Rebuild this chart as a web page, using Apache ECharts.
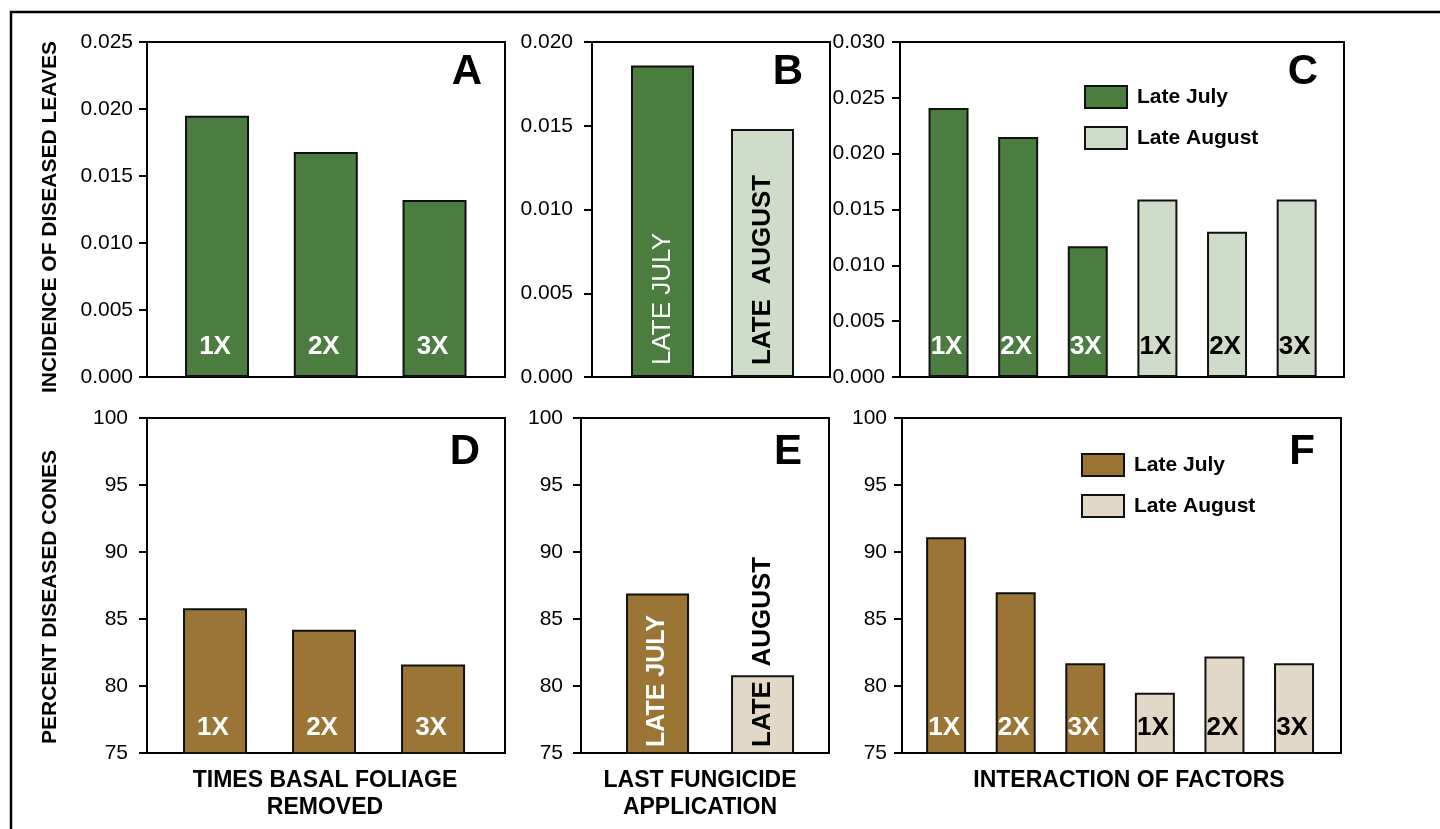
<!DOCTYPE html>
<html><head><meta charset="utf-8">
<script src="https://cdn.jsdelivr.net/npm/echarts@6/dist/echarts.min.js"></script>
<style>html,body{margin:0;padding:0;background:#fff}#c{width:1440px;height:829px}</style>
</head><body><div id="c"></div>
<script>
// ---- data ----
const timesCats = ['1X', '2X', '3X'];
const dateCats = ['LATE JULY', 'LATE  AUGUST'];
const periodNames = ['Late July', 'Late August'];
const panelLetters = ['A', 'B', 'C', 'D', 'E', 'F'];
const leavesByTimes = [0.0195, 0.0168, 0.0132];
const leavesByDate = [0.0186, 0.0148];
const leavesJuly = [0.0241, 0.0215, 0.0117];
const leavesAugust = [0.0159, 0.0130, 0.0159];
const conesByTimes = [85.8, 84.2, 81.6];
const conesByDate = [86.9, 80.8];
const conesJuly = [91.1, 87.0, 81.7];
const conesAugust = [79.5, 82.2, 81.7];
const leavesMax = [0.025, 0.020, 0.030];
const leavesStep = 0.005;
const conesMin = 75, conesMax = 100, conesStep = 5;

// ---- style ----
const FONT = '"Liberation Sans", Arial, Helvetica, sans-serif';
const GREEN = '#4C7D40', LGREEN = '#D0DCCA', BROWN = '#9A7536', BEIGE = '#E2D8C7';
const INK = '#111';

const grids = [
  {left: 147, top: 42, width: 358, height: 335},
  {left: 592, top: 42, width: 238, height: 335},
  {left: 900, top: 42, width: 444, height: 335},
  {left: 147, top: 418, width: 358, height: 335},
  {left: 581, top: 418, width: 248, height: 335},
  {left: 902, top: 418, width: 439, height: 335}
];
const xRanges = [[0.356, 3.648], [0.295, 2.675], [0.303, 6.68], [0.376, 3.66], [0.271, 2.633], [0.366, 6.675]];
const labelMargins = [14, 19, 15, 19, 18, 15];

const xAxis = grids.map((g, i) => ({
  type: 'value', gridIndex: i, min: xRanges[i][0], max: xRanges[i][1],
  axisLine: {show: true, onZero: false, lineStyle: {color: '#000', width: 2}},
  axisTick: {show: false}, axisLabel: {show: false}, splitLine: {show: false}
}));
const yAxis = grids.map((g, i) => {
  const top = i < 3;
  return {
    type: 'value', gridIndex: i,
    min: top ? 0 : conesMin, max: top ? leavesMax[i] : conesMax,
    interval: top ? leavesStep : conesStep,
    axisLine: {show: true, lineStyle: {color: '#000', width: 2}},
    axisTick: {show: true, inside: false, length: 8, lineStyle: {color: '#000', width: 2}},
    splitLine: {show: false},
    axisLabel: {
      margin: labelMargins[i], color: '#000', fontSize: 21, fontFamily: FONT,
      formatter: v => top ? v.toFixed(3) : String(Math.round(v))
    }
  };
});

function timesLabel(color, dist) {
  return {show: true, position: 'insideBottom', distance: dist, verticalAlign: 'middle',
    color: color, fontSize: 26, fontWeight: 'bold', fontFamily: FONT, offset: [-2, 0],
    formatter: p => timesCats[p.dataIndex]};
}
function barSeries(gi, name, vals, offset, color, labelColor, width, dist) {
  return {
    type: 'bar', name: name, xAxisIndex: gi, yAxisIndex: gi, barWidth: width, barGap: '-100%',
    data: vals.map((v, k) => [k + 1 + offset, v]),
    itemStyle: {color: color, borderColor: INK, borderWidth: 2},
    label: timesLabel(labelColor, dist), emphasis: {disabled: true}, animation: false
  };
}
function dateSeries(gi, vals, colors, labelColors, weights, width, dist, size) {
  return {
    type: 'bar', xAxisIndex: gi, yAxisIndex: gi, barWidth: width,
    data: vals.map((v, k) => ({
      value: [k + 1, v],
      itemStyle: {color: colors[k], borderColor: INK, borderWidth: 2},
      label: {show: true, position: 'insideBottom', distance: dist, rotate: 90,
        align: 'left', verticalAlign: 'middle', color: labelColors[k],
        fontSize: size[k], fontWeight: weights[k], fontFamily: FONT,
        formatter: () => dateCats[k]}
    })),
    emphasis: {disabled: true}, animation: false
  };
}

const series = [
  barSeries(0, 'A', leavesByTimes, 0, GREEN, '#fff', 64, 30),
  dateSeries(1, leavesByDate, [GREEN, LGREEN], ['#fff', '#000'], ['normal', 'bold'], 63, 12, [26, 26]),
  barSeries(2, periodNames[0], leavesJuly, 0, GREEN, '#fff', 40, 30),
  barSeries(2, periodNames[1], leavesAugust, 3, LGREEN, '#000', 40, 30),
  barSeries(3, 'D', conesByTimes, 0, BROWN, '#fff', 64, 26),
  dateSeries(4, conesByDate, [BROWN, BEIGE], ['#fff', '#000'], ['bold', 'bold'], 63, 7, [25, 26]),
  barSeries(5, periodNames[0], conesJuly, 0, BROWN, '#fff', 40, 26),
  barSeries(5, periodNames[1], conesAugust, 3, BEIGE, '#000', 40, 26)
];

function legendFor(left, top, c1, c2) {
  return {
    left: left, top: top, orient: 'vertical', padding: 0, itemWidth: 42, itemHeight: 22, itemGap: 17,
    selectedMode: false, icon: 'rect',
    itemStyle: {borderColor: INK, borderWidth: 2},
    textStyle: {fontSize: 21, fontWeight: 'bold', color: '#000', fontFamily: FONT, lineHeight: 22, padding: [0, 0, 0, 5]},
    data: [
      {name: periodNames[0], itemStyle: {color: c1, borderColor: INK, borderWidth: 2}},
      {name: periodNames[1], itemStyle: {color: c2, borderColor: INK, borderWidth: 2}}
    ]
  };
}

const letterPos = [[482, 72], [803, 72], [1318, 72], [480, 452], [802, 452], [1315, 452]];
const graphic = [];
panelLetters.forEach((t, i) => graphic.push({
  type: 'text', x: letterPos[i][0], y: letterPos[i][1], silent: true,
  style: {text: t, fill: '#000', font: 'bold 42px ' + FONT, textAlign: 'right', textVerticalAlign: 'middle'}
}));
function htext(t, x, y) {
  return {type: 'text', x: x, y: y, silent: true,
    style: {text: t, fill: '#000', font: 'bold 23px ' + FONT, textAlign: 'center', textVerticalAlign: 'middle'}};
}
function vtext(t, x, y) {
  return {type: 'text', x: x, y: y, rotation: Math.PI / 2, silent: true,
    style: {text: t, fill: '#000', font: 'bold 21px ' + FONT, textAlign: 'center', textVerticalAlign: 'middle'}};
}
graphic.push(vtext('INCIDENCE OF DISEASED LEAVES', 50, 217));
graphic.push(vtext('PERCENT DISEASED CONES', 50, 597));
graphic.push(htext('TIMES BASAL FOLIAGE', 325, 781));
graphic.push(htext('REMOVED', 325, 808));
graphic.push(htext('LAST FUNGICIDE', 700, 781));
graphic.push(htext('APPLICATION', 700, 808));
graphic.push(htext('INTERACTION OF FACTORS', 1129, 781));
graphic.push({type: 'polyline', silent: true, shape: {points: [[11, 829], [11, 12], [1440, 12]]},
  style: {stroke: '#000', lineWidth: 2.5, fill: null}});

const chart = echarts.init(document.getElementById('c'), null, {renderer: 'canvas'});
chart.setOption({
  animation: false,
  backgroundColor: '#fff',
  textStyle: {fontFamily: FONT},
  grid: grids.map(g => Object.assign({show: true, borderColor: '#000', borderWidth: 2, backgroundColor: 'transparent'}, g)),
  xAxis: xAxis,
  yAxis: yAxis,
  legend: [legendFor(1084, 85, GREEN, LGREEN), legendFor(1081, 453, BROWN, BEIGE)],
  series: series,
  graphic: graphic
});
</script></body></html>
